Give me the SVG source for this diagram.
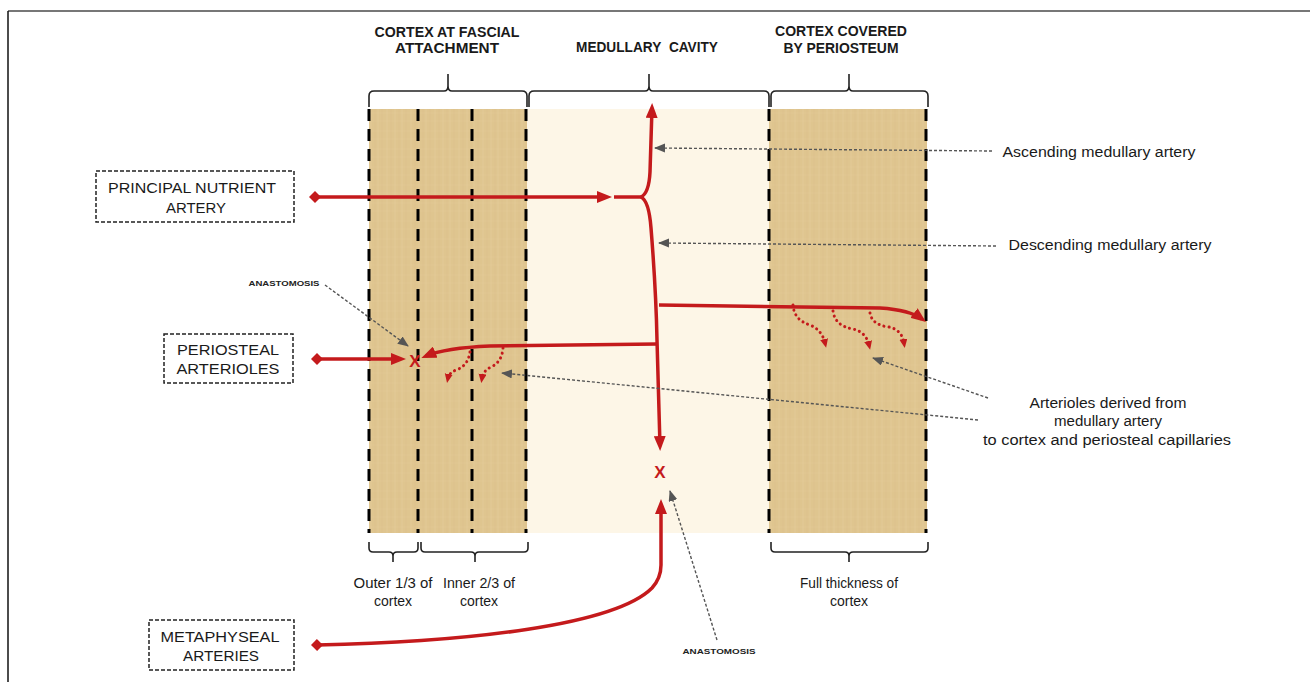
<svg xmlns="http://www.w3.org/2000/svg" width="1310" height="682" viewBox="0 0 1310 682">
<style>
.hdr{font-family:"Liberation Sans",Arial,sans-serif;font-weight:bold;font-size:14px;fill:#1a1a1a;text-anchor:middle}
.lbl{font-family:"Liberation Sans",Arial,sans-serif;font-size:14px;fill:#1a1a1a;text-anchor:middle}
.box{fill:#fff;stroke:#222;stroke-width:1.5;stroke-dasharray:4,2}
.btx{font-family:"Liberation Sans",Arial,sans-serif;font-size:15px;fill:#1a1a1a;text-anchor:middle}
.small{font-family:"Liberation Sans",Arial,sans-serif;font-weight:bold;font-size:8px;fill:#222;text-anchor:middle}
.dash{stroke:#000;stroke-width:3;stroke-dasharray:12,8;fill:none}
.brace{stroke:#222;stroke-width:1.6;fill:none}
.red{stroke:#c41a1c;stroke-width:3.5;fill:none}
.dot{stroke:#c41a1c;stroke-width:3;fill:none;stroke-dasharray:0.1,5;stroke-linecap:round}
.ann{stroke:#555;stroke-width:1.4;fill:none;stroke-dasharray:3,2}
.xm{font-family:"Liberation Sans",Arial,sans-serif;font-weight:bold;font-size:17px;fill:#c41a1c;text-anchor:middle}
</style>
<defs>
<pattern id="paper" width="24" height="18" patternUnits="userSpaceOnUse">
<rect width="24" height="18" fill="#dfc58f"/>
<path d="M3,0 V18 M11,0 V18 M18,0 V18" stroke="#e7d2a3" stroke-width="1" opacity="0.35"/>
<path d="M7,0 V18 M15,0 V18 M22,0 V18" stroke="#d3b67d" stroke-width="0.8" opacity="0.3"/>
<path d="M0,5 H24 M0,13 H24" stroke="#e6cf9e" stroke-width="0.8" opacity="0.3"/>
</pattern>
<marker id="ra" markerUnits="userSpaceOnUse" markerWidth="16" markerHeight="12" refX="10" refY="6" orient="auto">
<path d="M0,0 L15,6 L0,12 z" fill="#c41a1c"/>
</marker>
<marker id="rd" markerUnits="userSpaceOnUse" markerWidth="14" markerHeight="14" refX="6" refY="6" orient="auto">
<path d="M0,6 L6,0 L12,6 L6,12 z" fill="#c41a1c"/>
</marker>
<marker id="rs" markerUnits="userSpaceOnUse" markerWidth="10" markerHeight="10" refX="4" refY="4" orient="auto">
<path d="M0,0 L9,4 L0,8 z" fill="#c41a1c"/>
</marker>
<marker id="ga" markerUnits="userSpaceOnUse" markerWidth="12" markerHeight="10" refX="10" refY="4.5" orient="auto">
<path d="M0,0 L11,4.5 L0,9 z" fill="#555"/>
</marker>
</defs>
<rect width="1310" height="682" fill="#fff"/>
<g id="frame">
<line x1="8" y1="11" x2="1310" y2="11" stroke="#777" stroke-width="2"/>
<line x1="8" y1="11" x2="8" y2="682" stroke="#111" stroke-width="1.5"/>
</g>
<g id="bands">
<rect x="369" y="109" width="158" height="424" fill="url(#paper)"/>
<rect x="527" y="109" width="242" height="424" fill="#fdf6e7"/>
<rect x="769" y="109" width="158" height="424" fill="url(#paper)"/>
<path class="dash" d="M369,109 V533 M418,109 V533 M472,109 V533 M526,109 V533 M769,109 V533 M926,109 V533"/>
</g>
<g id="headers">
<text class="hdr" x="447" y="37" textLength="145" lengthAdjust="spacingAndGlyphs">CORTEX AT FASCIAL</text>
<text class="hdr" x="447" y="53" textLength="104" lengthAdjust="spacingAndGlyphs">ATTACHMENT</text>
<text class="hdr" x="647" y="52" textLength="142" lengthAdjust="spacingAndGlyphs">MEDULLARY&#160;&#160;CAVITY</text>
<text class="hdr" x="841" y="36" textLength="132" lengthAdjust="spacingAndGlyphs">CORTEX COVERED</text>
<text class="hdr" x="841" y="53" textLength="115" lengthAdjust="spacingAndGlyphs">BY PERIOSTEUM</text>
</g>
<g id="braces">
<path class="brace" d="M369,107 V96 Q369,91 374,91 H444 Q448,91 448,86 V74 M448,86 Q448,91 452,91 H522 Q527,91 527,96 V107"/>
<path class="brace" d="M529,107 V96 Q529,91 534,91 H645 Q649,91 649,86 V74 M649,86 Q649,91 653,91 H764 Q769,91 769,96 V107"/>
<path class="brace" d="M771,107 V96 Q771,91 776,91 H845 Q849,91 849,86 V74 M849,86 Q849,91 853,91 H923 Q928,91 928,96 V107"/>
<path class="brace" d="M369,542 V548 Q369,552 373,552 H389 Q393,552 393,556 V562 M393,556 Q393,552 397,552 H414 Q418,552 418,548 V542"/>
<path class="brace" d="M421,542 V548 Q421,552 425,552 H471 Q475,552 475,556 V562 M475,556 Q475,552 479,552 H524 Q528,552 528,548 V542"/>
<path class="brace" d="M771,542 V548 Q771,552 775,552 H845 Q849,552 849,556 V562 M849,556 Q849,552 853,552 H924 Q928,552 928,548 V542"/>
</g>
<g id="bottom-labels">
<text class="lbl" x="393" y="588" textLength="79" lengthAdjust="spacingAndGlyphs">Outer 1/3 of</text>
<text class="lbl" x="393" y="606">cortex</text>
<text class="lbl" x="479" y="588" textLength="72" lengthAdjust="spacingAndGlyphs">Inner 2/3 of</text>
<text class="lbl" x="479" y="606">cortex</text>
<text class="lbl" x="849" y="588" textLength="98" lengthAdjust="spacingAndGlyphs">Full thickness of</text>
<text class="lbl" x="849" y="606">cortex</text>
</g>
<g id="node-principal">
<rect class="box" x="96" y="171" width="198" height="51"/>
<text class="btx" x="192" y="193" textLength="168" lengthAdjust="spacingAndGlyphs">PRINCIPAL NUTRIENT</text>
<text class="btx" x="196" y="213" textLength="60" lengthAdjust="spacingAndGlyphs">ARTERY</text>
</g>
<g id="node-periosteal">
<rect class="box" x="164" y="334" width="129" height="49"/>
<text class="btx" x="228" y="355" textLength="102" lengthAdjust="spacingAndGlyphs">PERIOSTEAL</text>
<text class="btx" x="228" y="374" textLength="103" lengthAdjust="spacingAndGlyphs">ARTERIOLES</text>
</g>
<g id="node-metaphyseal">
<rect class="box" x="149" y="620" width="145" height="50"/>
<text class="btx" x="220" y="642" textLength="119" lengthAdjust="spacingAndGlyphs">METAPHYSEAL</text>
<text class="btx" x="221" y="661" textLength="76" lengthAdjust="spacingAndGlyphs">ARTERIES</text>
</g>
<g id="annotations">
<text class="lbl" x="1099" y="157" textLength="193" lengthAdjust="spacingAndGlyphs">Ascending medullary artery</text>
<text class="lbl" x="1110" y="250" textLength="203" lengthAdjust="spacingAndGlyphs">Descending medullary artery</text>
<text class="lbl" x="1108" y="408" textLength="157" lengthAdjust="spacingAndGlyphs">Arterioles derived from</text>
<text class="lbl" x="1108" y="426" textLength="108" lengthAdjust="spacingAndGlyphs">medullary artery</text>
<text class="lbl" x="1107" y="445" textLength="248" lengthAdjust="spacingAndGlyphs">to cortex and periosteal capillaries</text>
<text class="small" x="284" y="286" textLength="71" lengthAdjust="spacingAndGlyphs">ANASTOMOSIS</text>
<text class="small" x="719" y="654" textLength="73" lengthAdjust="spacingAndGlyphs">ANASTOMOSIS</text>
</g>
<g id="connectors">
<path class="red" d="M315,197 H607" marker-start="url(#rd)" marker-end="url(#ra)"/>
<path class="red" d="M614,197 H641"/>
<path class="red" d="M641,197 Q649,193 650,172 L652,108" marker-end="url(#ra)"/>
<path class="red" d="M641,197 Q649,201 651,228 Q656,290 657,340 L660,446" marker-end="url(#ra)"/>
<path class="red" d="M659,305 L880,308 Q910,310 922,319" marker-end="url(#ra)"/>
<path class="red" d="M657,344 L490,346 Q445,348 426,356" marker-end="url(#ra)"/>
<path class="red" d="M317,359 H401" marker-start="url(#rd)" marker-end="url(#ra)"/>
<path class="red" d="M317,645 C470,642 615,625 652,588 Q661,578 661,565 L661,504" marker-start="url(#rd)" marker-end="url(#ra)"/>
<path class="dot" d="M470,352 Q468,366 456,370 Q449,373 448,378" marker-end="url(#rs)"/>
<path class="dot" d="M503,348 Q502,362 491,367 Q483,371 482,378" marker-end="url(#rs)"/>
<path class="dot" d="M793,305 Q794,320 810,325 Q822,330 825,343" marker-end="url(#rs)"/>
<path class="dot" d="M833,311 Q835,326 853,329 Q866,332 869,345" marker-end="url(#rs)"/>
<path class="dot" d="M870,313 Q872,325 889,327 Q902,330 904,343" marker-end="url(#rs)"/>
<path class="ann" d="M992,151 L655,148" marker-end="url(#ga)"/>
<path class="ann" d="M996,246 L659,243" marker-end="url(#ga)"/>
<path class="ann" d="M988,398 L873,358" marker-end="url(#ga)"/>
<path class="ann" d="M978,420 L502,373" marker-end="url(#ga)"/>
<path class="ann" d="M325,285 L408,346" marker-end="url(#ga)"/>
<path class="ann" d="M717,640 L670,491" marker-end="url(#ga)"/>
<text class="xm" x="415" y="367">X</text>
<text class="xm" x="660" y="478" font-size="15">X</text>
</g>
</svg>
